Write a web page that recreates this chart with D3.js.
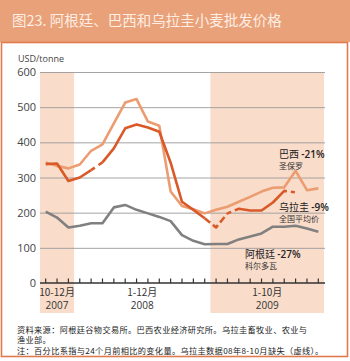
<!DOCTYPE html>
<meta charset="utf-8">
<title>图23 小麦批发价格</title>
<script src="https://d3js.org/d3.v7.min.js"></script>
<style>
    body { margin: 0; background: #fff; }
    text { font-family: "Noto Sans CJK SC", "Noto Sans", sans-serif; }
</style>
<body>
<script>
    // months Oct 2007 .. Oct 2009
    var months = d3.range(25).map(function (i) { return "m" + i; });
    var yTicks = [0, 100, 200, 300, 400, 500, 600];

    var brazil = [343, 333, 326, 337, 376, 394, 454, 513, 523, 459, 447, 260, 219, 210, 198,
        208, 217, 231, 245, 260, 271, 272, 319, 264, 269];
    var uruguay = [338, 340, 290, 300, 321, 343, 383, 440, 451, 442, 430, 342, 231, 208, 184,
        158, 198, 211, 206, 206, 229, 262, 258, null, null];
    var argentina = [203, 186, 158, 163, 170, 170, 215, 222, 208, 198, 188, 176, 136, 120, 110,
        111, 111, 124, 132, 141, 160, 160, 163, 155, 146];

    var periods = [
        { from: 0, to: 2, label: "10-12月", year: "2007", shade: true },
        { from: 3, to: 14, label: "1-12月", year: "2008", shade: false },
        { from: 15, to: 24, label: "1-10月", year: "2009", shade: true }
    ];

    var W = 350, H = 361;
    var svg = d3.select("body").append("svg").attr("width", W).attr("height", H);

    // header
    svg.append("rect").attr("x", 0).attr("y", 0).attr("width", W).attr("height", 42)
        .attr("fill", "#E9A179");
    svg.append("text").attr("x", 12).attr("y", 26).attr("fill", "#FDEDE3")
        .attr("font-size", 14.5).text("图23. 阿根廷、巴西和乌拉圭小麦批发价格");
    svg.append("rect").attr("x", 1.5).attr("y", 42.5).attr("width", 346).attr("height", 314)
        .attr("fill", "none").attr("stroke", "#E07B4C").attr("stroke-width", 1.6);

    var x = d3.scaleBand().domain(months).range([40, 324]);
    var y = d3.scaleLinear().domain([0, 600]).range([283, 72]);
    var cx = function (i) { return x(months[i]) + x.bandwidth() / 2; };

    // shaded periods
    svg.append("g").selectAll("rect")
        .data(periods.filter(function (p) { return p.shade; }))
        .join("rect")
        .attr("x", function (p) { return x(months[p.from]); })
        .attr("width", function (p) { return x(months[p.to]) + x.bandwidth() - x(months[p.from]); })
        .attr("y", y(600)).attr("height", 313 - y(600))
        .attr("fill", "#F9DCCA");

    // grid + y labels
    var yAxis = svg.append("g").attr("transform", "translate(40,0)")
        .call(d3.axisLeft(y).tickValues(yTicks).tickSize(-285).tickPadding(4));
    yAxis.select(".domain").remove();
    yAxis.selectAll(".tick line").attr("stroke", "#9a9a9a").attr("stroke-width", 0.9)
        .filter(function (d) { return d === 0; }).remove();
    yAxis.selectAll(".tick text").attr("font-size", 11).attr("fill", "#444")
        .style("font-family", "'Open Sans', sans-serif");

    svg.append("text").attr("x", 18).attr("y", 62).attr("font-size", 9).attr("fill", "#444")
        .style("font-family", "'Open Sans', sans-serif").text("USD/tonne");

    // x axis with upward ticks
    svg.append("line").attr("x1", 40).attr("x2", 325).attr("y1", y(0)).attr("y2", y(0))
        .attr("stroke", "#333").attr("stroke-width", 1.4);
    svg.append("g").selectAll("line").data(months).join("line")
        .attr("x1", function (d) { return x(d) + x.bandwidth() / 2; })
        .attr("x2", function (d) { return x(d) + x.bandwidth() / 2; })
        .attr("y1", y(0)).attr("y2", y(0) - 4.5)
        .attr("stroke", "#333").attr("stroke-width", 1.2);

    var xl = svg.append("g").selectAll("g").data(periods).join("g")
        .attr("transform", function (p) { return "translate(" + ((cx(p.from) + cx(p.to)) / 2) + ",0)"; });
    xl.append("text").attr("y", 296).attr("text-anchor", "middle").attr("font-size", 10)
        .attr("fill", "#333").text(function (p) { return p.label; });
    xl.append("text").attr("y", 308.5).attr("text-anchor", "middle").attr("font-size", 10)
        .attr("fill", "#333").style("font-family", "'Open Sans', sans-serif")
        .text(function (p) { return p.year; });

    // lines
    var line = d3.line()
        .defined(function (d) { return d != null; })
        .x(function (d, i) { return cx(i); })
        .y(function (d) { return y(d); });

    function part(arr, a, b) {
        return arr.map(function (v, i) { return i >= a && i <= b ? v : null; });
    }

    svg.append("path").datum(argentina).attr("d", line)
        .attr("fill", "none").attr("stroke", "#808080").attr("stroke-width", 2.6)
        .attr("stroke-linejoin", "round");
    svg.append("path").datum(brazil).attr("d", line)
        .attr("fill", "none").attr("stroke", "#EC9C71").attr("stroke-width", 2.6)
        .attr("stroke-linejoin", "round");

    var uColor = "#D95A28";
    [[0, 4, null], [4, 5, "4.5,4.5,60"], [5, 14, null], [14, 16, "7,3.5"], [16, 22, "4,4,60"]]
        .forEach(function (s) {
            svg.append("path").datum(part(uruguay, s[0], s[1])).attr("d", line)
                .attr("fill", "none").attr("stroke", uColor).attr("stroke-width", 2.6)
                .attr("stroke-linejoin", "round")
                .attr("stroke-dasharray", s[2]);
        });

    // labels
    var labels = [
        { x: 279, y: 158, main: "巴西", pct: "-21%", sub: "圣保罗" },
        { x: 279, y: 211, main: "乌拉圭", pct: "-9%", sub: "全国平均价" },
        { x: 245, y: 258, main: "阿根廷", pct: "-27%", sub: "科尔多瓦" }
    ];
    var lg = svg.append("g").selectAll("g").data(labels).join("g");
    var t = lg.append("text").attr("x", function (d) { return d.x; })
        .attr("y", function (d) { return d.y; }).attr("font-size", 10).attr("fill", "#222");
    t.append("tspan").text(function (d) { return d.main + " "; });
    t.append("tspan").style("font-family", "'Open Sans', sans-serif").attr("font-weight", 600)
        .text(function (d) { return d.pct; });
    lg.append("text").attr("x", function (d) { return d.x; })
        .attr("y", function (d) { return d.y + 10.5; }).attr("font-size", 8).attr("fill", "#333")
        .text(function (d) { return d.sub; });

    // footnote
    var notes = [
        "资料来源：阿根廷谷物交易所。巴西农业经济研究所。乌拉圭畜牧业、农业与",
        "渔业部。",
        "注：百分比系指与24个月前相比的变化量。乌拉圭数据08年8-10月缺失（虚线）。"
    ];
    svg.append("g").selectAll("text").data(notes).join("text")
        .attr("x", 17).attr("y", function (d, i) { return 332.5 + i * 10.6; })
        .attr("font-size", 8.2).attr("letter-spacing", 0.35).attr("fill", "#222")
        .text(function (d) { return d; });
</script>
